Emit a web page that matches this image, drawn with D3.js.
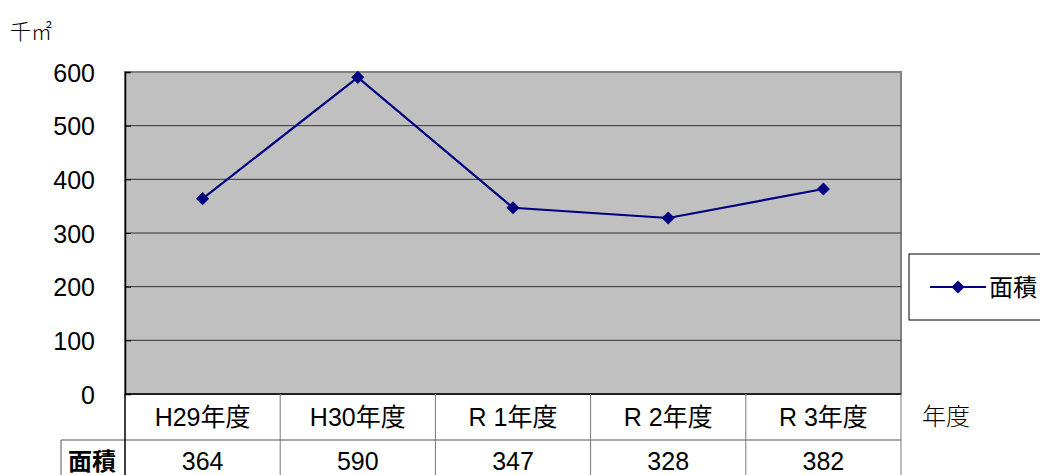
<!DOCTYPE html>
<meta charset="utf-8">
<html>
<style>
body { margin: 0; background: #fff; }
text { font-family: "Liberation Sans", Arial, "Noto Sans CJK JP", sans-serif; }
.jp { font-family: "Liberation Sans", "Noto Sans CJK JP", sans-serif; }
.thin { font-family: "DejaVu Serif", "Noto Sans CJK JP", serif; font-weight: 300; }
</style>
<svg width="1040" height="475"></svg>
<script src="https://d3js.org/d3.v7.min.js"></script>
<script>
var categories = ["H29年度", "H30年度", "R 1年度", "R 2年度", "R 3年度"];
var values = [364, 590, 347, 328, 382];
var seriesName = "面積";
var yTicks = [0, 100, 200, 300, 400, 500, 600];

var svg = d3.select("svg");
var pLeft = 125, pRight = 901, pTop = 72, pBottom = 394;

var x = d3.scaleBand().domain(categories).range([pLeft, pRight]);
var y = d3.scaleLinear().domain([0, 600]).range([pBottom, pTop]);

// plot area
svg.append("rect")
    .attr("x", pLeft).attr("y", pTop)
    .attr("width", pRight - pLeft).attr("height", pBottom - pTop)
    .attr("fill", "#c0c0c0")
    .attr("stroke", "#808080").attr("stroke-width", 2);

// gridlines
svg.append("g").selectAll("line")
    .data(yTicks.filter(function(d) { return d > 0 && d < 600; }))
    .enter().append("line")
    .attr("x1", pLeft).attr("x2", pRight)
    .attr("y1", function(d) { return y(d); })
    .attr("y2", function(d) { return y(d); })
    .attr("stroke", "#333").attr("stroke-width", 1);

// y axis
var yAxis = svg.append("g")
    .attr("transform", "translate(" + pLeft + ",0)")
    .call(d3.axisLeft(y).tickValues(yTicks).tickSize(-6).tickPadding(30));
yAxis.select(".domain").attr("stroke", "#000").attr("stroke-width", 1.5);
yAxis.selectAll(".tick line").attr("stroke", "#000");
yAxis.selectAll("text").attr("font-size", 25).attr("fill", "#000")
    .attr("dy", "0.36em")
    .attr("font-family", "Liberation Sans, Arial, sans-serif");

// bottom axis line
svg.append("line")
    .attr("x1", pLeft).attr("x2", pRight)
    .attr("y1", pBottom).attr("y2", pBottom)
    .attr("stroke", "#000").attr("stroke-width", 1.5);

// data table
var rowMid = 440, tableBottom = 476;
var tbl = svg.append("g");
tbl.append("line").attr("x1", 61).attr("x2", pRight)
    .attr("y1", rowMid).attr("y2", rowMid).attr("stroke", "#555");
tbl.append("line").attr("x1", 61).attr("x2", 61)
    .attr("y1", rowMid).attr("y2", tableBottom).attr("stroke", "#555");
tbl.selectAll(".vl")
    .data(categories.map(function(c) { return x(c); }).concat([pRight]))
    .enter().append("line")
    .attr("x1", function(d) { return d; }).attr("x2", function(d) { return d; })
    .attr("y1", pBottom).attr("y2", tableBottom)
    .attr("stroke", function(d, i) { return i === 0 ? "#000" : "#777"; })
    .attr("stroke-width", function(d, i) { return i === 0 ? 1.5 : 1; });
tbl.selectAll(".cat")
    .data(categories).enter().append("text")
    .attr("class", "jp")
    .attr("x", function(d) { return x(d) + x.bandwidth() / 2; })
    .attr("y", 426)
    .attr("text-anchor", "middle").attr("font-size", 25)
    .text(function(d) { return d; });
tbl.selectAll(".val")
    .data(values).enter().append("text")
    .attr("x", function(d, i) { return x(categories[i]) + x.bandwidth() / 2; })
    .attr("y", 470)
    .attr("text-anchor", "middle").attr("font-size", 25)
    .text(function(d) { return d; });
tbl.append("text").attr("class", "jp")
    .attr("x", 92).attr("y", 470).attr("text-anchor", "middle")
    .attr("font-size", 24).attr("font-weight", "bold")
    .text(seriesName);

// line + markers
var line = d3.line()
    .x(function(d, i) { return x(categories[i]) + x.bandwidth() / 2; })
    .y(function(d) { return y(d); });
svg.append("path").datum(values)
    .attr("d", line).attr("fill", "none")
    .attr("stroke", "#000080").attr("stroke-width", 2.2);
svg.append("g").selectAll("path")
    .data(values).enter().append("path")
    .attr("d", d3.symbol(d3.symbolDiamond2, 110))
    .attr("transform", function(d, i) {
      return "translate(" + (x(categories[i]) + x.bandwidth() / 2) + "," + y(d) + ")";
    })
    .attr("fill", "#000080");

// units
svg.append("text").attr("class", "thin")
    .attr("x", 10).attr("y", 39).attr("font-size", 21)
    .text("千㎡");
svg.append("text").attr("class", "thin")
    .attr("x", 922).attr("y", 425).attr("font-size", 24)
    .text("年度");

// legend
var lg = svg.append("g");
lg.append("rect").attr("x", 909).attr("y", 254)
    .attr("width", 140).attr("height", 66)
    .attr("fill", "#fff").attr("stroke", "#000");
lg.append("line").attr("x1", 930).attr("x2", 986)
    .attr("y1", 287).attr("y2", 287)
    .attr("stroke", "#000080").attr("stroke-width", 2.2);
lg.append("path").attr("d", d3.symbol(d3.symbolDiamond2, 110))
    .attr("transform", "translate(958,287)").attr("fill", "#000080");
lg.append("text").attr("class", "jp")
    .attr("x", 989).attr("y", 296).attr("font-size", 24)
    .text(seriesName);
</script>
</html>
